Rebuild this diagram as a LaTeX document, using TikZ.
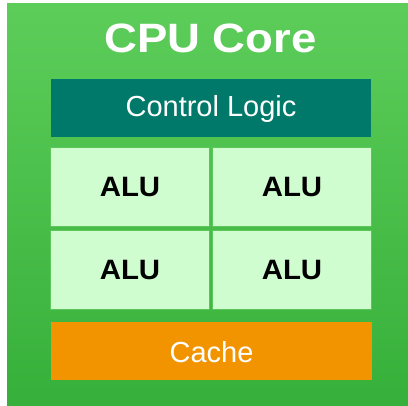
\documentclass[tikz,border=0pt]{standalone}
\usepackage{fontspec}
\setmainfont{Liberation Sans}
\usetikzlibrary{positioning}
\definecolor{bgtop}{HTML}{5DCD5A}
\definecolor{bgbot}{HTML}{36B03A}
\definecolor{teal}{HTML}{00796B}
\definecolor{alufill}{HTML}{D0FDD0}
\definecolor{aluedge}{HTML}{5CC65A}
\definecolor{cacheor}{HTML}{F29400}
\tikzset{
  alubox/.style={draw=aluedge, line width=0.8pt, fill=alufill, inner sep=0pt,
    minimum width=159pt, minimum height=79pt, text depth=0pt,
    font=\fontsize{28}{30}\selectfont\bfseries, text=black},
  titletext/.style={text=white, font=\fontsize{41}{44}\selectfont\bfseries},
  whitetext/.style={text=white, font=\fontsize{29}{32}\selectfont}
}
\begin{document}
\begin{tikzpicture}[x=1pt,y=-1pt]
\useasboundingbox (0,0) rectangle (408,406);
\fill[white] (0,0) rectangle (408,406);
\shade[top color=bgtop, bottom color=bgbot] (7,4) rectangle (408,406);
\node[titletext] (title) at (210.5,38.5) {\scalebox{1.11}[1]{CPU Core}};
\node[fill=teal, minimum width=320pt, minimum height=58pt, inner sep=0pt] (ctrl) at (211,108) {};
\node[whitetext] (ctrltext) at (211,109.5) {Control Logic};
\node[alubox] (alu1) at (130,186.5) {\scalebox{1.05}[1]{ALU}};
\node[alubox] (alu2) at (292,186.5) {\scalebox{1.05}[1]{ALU}};
\node[alubox] (alu3) at (130,269.5) {\scalebox{1.05}[1]{ALU}};
\node[alubox] (alu4) at (292,269.5) {\scalebox{1.05}[1]{ALU}};
\node[fill=cacheor, minimum width=321pt, minimum height=58pt, inner sep=0pt] (cache) at (211.5,351) {};
\node[whitetext] (cachetext) at (211.5,352) {Cache};
\end{tikzpicture}
\end{document}
